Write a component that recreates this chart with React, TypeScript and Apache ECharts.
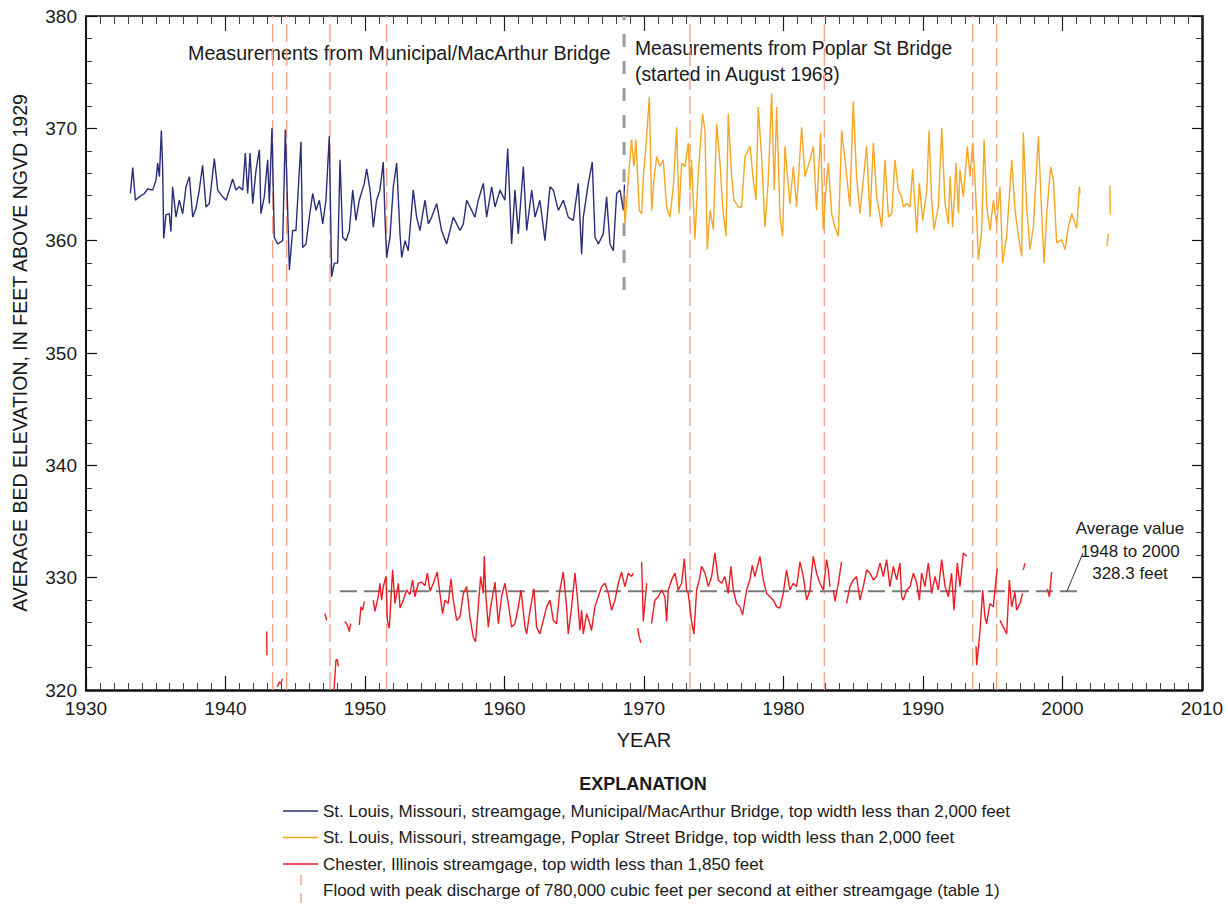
import React, { useEffect, useRef } from "react";
import * as echarts from "echarts";

const FONT = "'Liberation Sans Narrow', 'Arial Narrow', 'Liberation Sans', sans-serif";

// St. Louis, Municipal/MacArthur Bridge (year, elevation ft)
const municipalBridge: [number, number][] = [
  [1933.18, 364.2], [1933.35, 366.5], [1933.54, 363.6], [1933.82, 363.9], [1934.18, 364.2], [1934.42, 364.6],
  [1934.78, 364.5], [1935.02, 365.4], [1935.14, 366.9], [1935.26, 365.7], [1935.4, 369.8], [1935.5, 366.3],
  [1935.57, 360.2], [1935.73, 362.3], [1935.97, 362.4], [1936.09, 360.8], [1936.21, 364.8], [1936.45, 362.1],
  [1936.69, 363.6], [1936.93, 362.4], [1937.17, 364.8], [1937.41, 365.7], [1937.65, 362.1], [1937.89, 362.9],
  [1938.12, 364.5], [1938.36, 366.7], [1938.6, 363.0], [1938.84, 363.3], [1939.2, 367.3], [1939.44, 364.5],
  [1939.8, 363.9], [1940.04, 363.6], [1940.27, 364.5], [1940.51, 365.5], [1940.75, 364.5], [1940.99, 364.8],
  [1941.23, 364.5], [1941.42, 367.8], [1941.59, 364.2], [1941.76, 367.8], [1941.95, 363.3], [1942.19, 366.3],
  [1942.43, 368.1], [1942.54, 362.4], [1942.78, 363.9], [1943.02, 367.2], [1943.14, 363.3], [1943.33, 370.0],
  [1943.5, 360.3], [1943.74, 359.7], [1944.1, 360.0], [1944.29, 369.9], [1944.58, 357.4], [1944.81, 360.9],
  [1945.05, 360.9], [1945.41, 368.8], [1945.53, 359.4], [1945.77, 359.7], [1946.01, 362.1], [1946.25, 364.2],
  [1946.49, 362.7], [1946.73, 363.6], [1946.97, 361.5], [1947.2, 363.6], [1947.44, 369.3], [1947.61, 356.8],
  [1947.8, 358.0], [1948.04, 358.0], [1948.21, 367.2], [1948.4, 360.3], [1948.64, 360.0], [1948.88, 360.9],
  [1949.12, 364.5], [1949.35, 361.8], [1949.59, 363.6], [1949.95, 365.1], [1950.12, 366.4], [1950.36, 364.5],
  [1950.6, 361.2], [1950.83, 363.6], [1951.07, 364.5], [1951.31, 367.0], [1951.43, 362.1], [1951.55, 358.5],
  [1951.79, 360.3], [1952.03, 364.8], [1952.27, 366.9], [1952.51, 360.6], [1952.63, 358.5], [1952.87, 360.0],
  [1953.1, 359.1], [1953.46, 364.5], [1953.7, 362.1], [1953.94, 360.9], [1954.3, 363.6], [1954.54, 361.5],
  [1954.78, 362.1], [1955.14, 363.3], [1955.49, 360.9], [1955.85, 359.7], [1956.21, 361.5], [1956.33, 362.1],
  [1956.81, 360.9], [1957.05, 361.5], [1957.29, 363.6], [1957.53, 363.0], [1957.88, 362.1], [1958.12, 363.6],
  [1958.48, 365.1], [1958.72, 362.1], [1959.08, 364.8], [1959.32, 363.0], [1959.68, 364.5], [1960.03, 363.6],
  [1960.23, 368.2], [1960.51, 359.7], [1960.75, 364.5], [1960.99, 360.6], [1961.35, 366.6], [1961.59, 360.9],
  [1961.95, 364.5], [1962.19, 362.1], [1962.54, 363.6], [1962.9, 360.0], [1963.26, 364.8], [1963.5, 364.5],
  [1963.86, 362.7], [1964.22, 363.6], [1964.57, 362.1], [1964.93, 361.8], [1965.29, 365.1], [1965.53, 358.8],
  [1965.65, 362.1], [1966.01, 365.1], [1966.29, 367.0], [1966.49, 360.3], [1966.73, 359.7], [1967.08, 360.6],
  [1967.32, 363.9], [1967.56, 359.7], [1967.8, 359.1], [1968.04, 364.2], [1968.28, 364.5], [1968.52, 362.7],
  [1968.6, 365.0],
];

// St. Louis, Poplar Street Bridge
const poplarBridge: [number, number][] = [
  [1968.52, 364.5], [1968.64, 361.5], [1968.87, 365.4], [1969.11, 369.0], [1969.28, 366.6], [1969.42, 369.0],
  [1969.66, 362.7], [1969.83, 362.4], [1969.95, 365.7], [1970.14, 368.4], [1970.38, 372.8], [1970.55, 362.7],
  [1970.71, 365.4], [1970.91, 367.5], [1971.14, 366.6], [1971.38, 367.2], [1971.62, 363.0], [1971.86, 362.1],
  [1972.1, 364.8], [1972.34, 370.1], [1972.51, 362.4], [1972.7, 366.9], [1972.94, 366.6], [1973.18, 368.7],
  [1973.29, 364.5], [1973.41, 367.2], [1973.65, 360.1], [1973.89, 366.0], [1974.2, 371.3], [1974.37, 369.8],
  [1974.54, 359.2], [1974.73, 362.7], [1974.97, 361.0], [1975.21, 370.4], [1975.45, 366.9], [1975.64, 363.0],
  [1975.88, 360.4], [1976.04, 371.3], [1976.28, 365.7], [1976.45, 363.6], [1976.76, 363.0], [1977.0, 363.0],
  [1977.24, 367.5], [1977.6, 368.4], [1977.83, 365.4], [1978.03, 363.6], [1978.19, 371.9], [1978.43, 367.5],
  [1978.67, 361.2], [1978.91, 365.4], [1979.15, 373.1], [1979.34, 364.5], [1979.51, 371.9], [1979.75, 362.1],
  [1979.94, 360.4], [1980.1, 368.4], [1980.46, 363.3], [1980.7, 366.6], [1980.94, 363.0], [1981.3, 370.1],
  [1981.54, 365.7], [1981.9, 367.2], [1982.14, 368.4], [1982.37, 362.7], [1982.66, 369.6], [1982.85, 361.0],
  [1983.04, 364.5], [1983.21, 366.9], [1983.45, 362.4], [1983.69, 361.2], [1983.93, 360.4], [1984.17, 369.8],
  [1984.41, 367.2], [1984.76, 363.0], [1985.0, 372.4], [1985.24, 365.7], [1985.48, 362.4], [1985.72, 365.4],
  [1985.96, 368.4], [1986.2, 362.1], [1986.44, 368.7], [1986.68, 363.9], [1987.04, 361.2], [1987.28, 367.2],
  [1987.52, 362.1], [1987.76, 362.4], [1987.99, 367.2], [1988.23, 364.5], [1988.47, 363.9], [1988.59, 363.0],
  [1988.83, 363.3], [1989.07, 363.0], [1989.26, 366.4], [1989.55, 360.7], [1989.74, 365.1], [1989.98, 361.8],
  [1990.27, 364.5], [1990.43, 369.8], [1990.62, 363.6], [1990.79, 361.0], [1991.1, 363.0], [1991.34, 370.0],
  [1991.58, 363.3], [1991.82, 361.5], [1991.94, 365.7], [1992.13, 361.2], [1992.37, 366.9], [1992.54, 362.4],
  [1992.65, 366.3], [1992.89, 363.9], [1993.18, 368.4], [1993.37, 365.7], [1993.56, 368.7], [1993.73, 365.4],
  [1993.85, 362.1], [1993.97, 358.3], [1994.21, 360.9], [1994.38, 369.0], [1994.57, 363.0], [1994.81, 360.9],
  [1995.04, 363.6], [1995.28, 361.5], [1995.52, 364.8], [1995.71, 358.0], [1996.0, 360.4], [1996.36, 367.2],
  [1996.6, 362.7], [1996.84, 360.4], [1997.08, 358.6], [1997.19, 369.6], [1997.43, 363.0], [1997.67, 359.2],
  [1997.91, 361.2], [1998.27, 369.3], [1998.51, 362.4], [1998.68, 358.0], [1998.87, 362.4], [1999.15, 366.6],
  [1999.35, 365.4], [1999.58, 359.8], [1999.94, 360.1], [2000.18, 359.2], [2000.42, 361.2], [2000.66, 362.4],
  [2001.02, 361.1], [2001.21, 364.8], [2001.26, 364.2],
];
const poplarLate1: [number, number][] = [[2003.17, 359.5], [2003.29, 360.6]];
const poplarLate2: [number, number][] = [[2003.4, 364.9], [2003.42, 362.3]];

// Chester, Illinois (separate record pieces)
const chester1: [number, number][] = [[1942.95, 325.2], [1942.97, 323.1]];
const chester2: [number, number][] = [[1943.71, 320.3], [1943.86, 320.7], [1943.95, 320.6], [1944.1, 321.0]];
const chester3: [number, number][] = [[1947.13, 326.8], [1947.25, 326.2]];
const chester4: [number, number][] = [[1947.78, 320.0], [1947.92, 322.7], [1948.01, 322.7], [1948.09, 322.1]];
const chester5: [number, number][] = [[1948.56, 326.1], [1948.73, 325.8], [1948.87, 325.2], [1948.97, 325.9]];
const chester6: [number, number][] = [[1949.59, 325.8], [1949.71, 327.4], [1949.83, 327.1], [1949.95, 327.9]];
const chester7: [number, number][] = [
  [1950.59, 328.0], [1950.71, 327.0], [1950.95, 328.3], [1951.07, 329.5], [1951.19, 328.0], [1951.31, 329.2],
  [1951.5, 330.1], [1951.6, 326.2], [1951.74, 325.5], [1951.98, 330.7], [1952.15, 327.7], [1952.39, 329.5],
  [1952.51, 327.3], [1952.75, 328.0], [1952.98, 328.9], [1953.22, 328.5], [1953.41, 329.8], [1953.58, 328.3],
  [1953.82, 329.5], [1954.06, 329.6], [1954.3, 329.3], [1954.47, 330.4], [1954.66, 328.8], [1954.9, 329.5],
  [1955.18, 330.5], [1955.37, 328.6], [1955.56, 326.8], [1955.73, 328.0], [1955.97, 327.7], [1956.16, 329.9],
  [1956.33, 328.0], [1956.57, 326.2], [1956.81, 326.5], [1957.05, 328.6], [1957.29, 329.2], [1957.52, 326.5],
  [1957.76, 324.7], [1957.93, 324.3], [1958.12, 327.4], [1958.29, 330.1], [1958.48, 328.6], [1958.55, 331.9],
  [1958.67, 328.3], [1958.84, 325.6], [1959.01, 327.4], [1959.32, 329.6], [1959.56, 325.9], [1959.79, 328.3],
  [1960.03, 329.5], [1960.27, 327.7], [1960.51, 325.6], [1960.75, 325.9], [1960.99, 327.4], [1961.18, 328.9],
  [1961.47, 325.6], [1961.59, 325.0], [1961.83, 327.1], [1962.11, 329.0], [1962.3, 325.6], [1962.54, 325.0],
  [1963.02, 327.4], [1963.26, 328.0], [1963.5, 326.2], [1963.73, 325.9], [1963.97, 328.9], [1964.21, 330.5],
  [1964.45, 327.4], [1964.57, 325.0], [1964.81, 327.4], [1965.05, 330.4], [1965.22, 328.3], [1965.41, 325.3],
  [1965.53, 327.1], [1965.65, 325.0], [1965.89, 326.8], [1966.12, 325.9], [1966.24, 325.3], [1966.48, 327.4],
  [1966.72, 328.3], [1966.96, 329.2], [1967.2, 329.5], [1967.44, 328.6], [1967.68, 327.1], [1967.92, 328.0],
  [1968.16, 329.5], [1968.39, 330.5], [1968.63, 329.2], [1968.87, 330.4], [1969.11, 330.1], [1969.23, 330.4],
];
const chester8: [number, number][] = [[1969.54, 325.5], [1969.66, 324.7], [1969.78, 324.2]];
const chester9: [number, number][] = [[1969.83, 331.4], [1969.95, 326.1], [1970.19, 329.5]];
const chester10: [number, number][] = [
  [1970.54, 325.9], [1970.78, 328.0], [1971.02, 328.3], [1971.26, 328.9], [1971.5, 328.3], [1971.62, 326.1],
  [1971.74, 328.9], [1971.98, 329.8], [1972.22, 330.4], [1972.46, 328.9], [1972.7, 329.5], [1972.89, 331.7],
  [1973.05, 328.9], [1973.17, 328.6], [1973.41, 326.1], [1973.58, 325.0], [1973.77, 328.9], [1973.96, 329.8],
  [1974.13, 331.0], [1974.37, 330.4], [1974.61, 329.2], [1974.85, 330.1], [1975.08, 332.2], [1975.32, 329.8],
  [1975.56, 329.5], [1975.8, 330.1], [1976.04, 328.6], [1976.23, 331.0], [1976.4, 328.9], [1976.64, 327.7],
  [1976.88, 327.4], [1977.07, 326.7], [1977.35, 328.9], [1977.59, 329.8], [1977.76, 331.1], [1977.95, 330.1],
  [1978.31, 331.9], [1978.55, 329.8], [1978.79, 328.6], [1979.03, 328.3], [1979.27, 328.0], [1979.51, 327.4],
  [1979.74, 327.3], [1979.98, 328.6], [1980.22, 330.7], [1980.46, 328.9], [1980.7, 329.5], [1980.94, 329.2],
  [1981.18, 331.4], [1981.42, 330.1], [1981.66, 328.0], [1981.9, 328.9], [1982.13, 331.9], [1982.37, 330.4],
  [1982.61, 329.5], [1982.85, 328.9], [1983.09, 331.6], [1983.21, 330.7], [1983.33, 329.2],
];
const chester11: [number, number][] = [[1983.57, 328.9], [1983.69, 327.9], [1983.93, 329.5], [1984.16, 331.4]];
const chester12: [number, number][] = [
  [1984.52, 327.7], [1984.76, 329.2], [1985.0, 329.8], [1985.24, 330.1], [1985.48, 328.0], [1985.72, 329.2],
  [1985.96, 330.7], [1986.2, 330.4], [1986.44, 329.8], [1986.67, 330.1], [1986.92, 331.3], [1987.16, 330.1],
  [1987.39, 331.6], [1987.63, 329.2], [1987.87, 331.0], [1988.11, 329.8], [1988.35, 331.3], [1988.47, 328.3],
  [1988.59, 328.0], [1988.83, 328.9], [1989.07, 329.2], [1989.31, 330.4], [1989.55, 329.5], [1989.74, 328.0],
  [1989.9, 330.4], [1990.14, 329.2], [1990.38, 331.3], [1990.62, 328.6], [1990.86, 330.1], [1991.1, 328.9],
  [1991.34, 331.6], [1991.58, 329.2], [1991.82, 328.3], [1992.05, 330.4], [1992.22, 327.1], [1992.46, 331.3],
  [1992.65, 329.2], [1992.89, 332.2], [1993.13, 331.9],
];
const chester13: [number, number][] = [
  [1993.8, 323.9], [1993.85, 322.2], [1994.09, 325.3], [1994.28, 328.9], [1994.44, 326.5], [1994.56, 325.9],
  [1994.8, 327.7], [1995.04, 327.4], [1995.23, 329.8], [1995.33, 330.8],
];
const chester14: [number, number][] = [
  [1995.52, 326.2], [1995.76, 325.6], [1996.0, 325.0], [1996.19, 329.8], [1996.36, 327.4], [1996.59, 328.7],
  [1996.71, 327.1], [1996.95, 327.7], [1997.14, 328.6],
];
const chester15: [number, number][] = [[1997.19, 330.7], [1997.31, 331.3]];
const chester16: [number, number][] = [[1998.91, 329.0], [1999.06, 328.3], [1999.22, 330.5]];
const chesterPieces = [
  chester1, chester2, chester3, chester4, chester5, chester6, chester7, chester8,
  chester9, chester10, chester11, chester12, chester13, chester14, chester15, chester16,
];

// Floods with peak discharge >= 780,000 cfs
const floodYears = [1943.38, 1944.38, 1947.49, 1951.55, 1973.3, 1982.93, 1993.56, 1995.28];
// Change of measurement bridge (August 1968)
const bridgeChangeYear = 1968.57;
const bridgeChangeRange = [355.6, 380];
// Average Chester bed elevation 1948 to 2000
const averageLevel = 328.8;
const averageSpan = [1948.2, 2001.4];
const averageLeader: [number, number][] = [[2000.32, 328.8], [2001.47, 332.2]];

const legendLabels = [
  "St. Louis, Missouri, streamgage, Municipal/MacArthur Bridge, top width less than 2,000 feet",
  "St. Louis, Missouri, streamgage, Poplar Street Bridge, top width less than 2,000 feet",
  "Chester, Illinois streamgage, top width less than 1,850 feet",
  "Flood with peak discharge of 780,000 cubic feet per second at either streamgage (table 1)",
];

const BLUE = "#2a2e78";
const ORANGE = "#f7a623";
const RED = "#ec1c24";
const FLOOD = "#f5a287";

function line(data: any[], color: string, width: number, type: any = "solid", z = 3) {
  return {
    type: "line",
    data,
    showSymbol: false,
    symbol: "none",
    silent: true,
    animation: false,
    z,
    lineStyle: { color, width, type },
  };
}

export default function App() {
  const ref = useRef<HTMLDivElement>(null);
  useEffect(() => {
    document.body.style.margin = "0";
    const chart = echarts.init(ref.current!, null, { renderer: "svg" });
    const series: any[] = [];
    floodYears.forEach((yr) => {
      series.push(line([[yr, 320], [yr, 380]], FLOOD, 1.4, [18, 6], 1));
    });
    series.push(line([[bridgeChangeYear, bridgeChangeRange[0]], [bridgeChangeYear, bridgeChangeRange[1]]], "#9b9b9b", 3, [13, 14], 1));
    series.push(line([[averageSpan[0], averageLevel], [averageSpan[1], averageLevel]], "#7a7a7a", 2, [17, 7], 2));
    series.push(line(averageLeader, "#333", 1, "solid", 2));
    series.push(line(municipalBridge, BLUE, 1.4));
    series.push(line(poplarBridge, ORANGE, 1.4));
    series.push(line(poplarLate1, ORANGE, 1.4));
    series.push(line(poplarLate2, ORANGE, 1.4));
    chesterPieces.forEach((p) => series.push(line(p, RED, 1.4)));

    const labelFont = { fontFamily: FONT, fontSize: 19, color: "#1a1a1a" };
    const textStyle = (text: string, x: number, y: number, extra: any = {}) => ({
      type: "text",
      x,
      y,
      silent: true,
      style: { text, fontFamily: FONT, fontSize: 19, fill: "#1a1a1a", textVerticalAlign: "middle", ...extra },
    });

    const legendRows = [811, 837.5, 864, 890.5];
    const graphic: any[] = [
      textStyle("Measurements from Municipal/MacArthur Bridge", 188, 53, { fontSize: 19.7 }),
      textStyle("Measurements from Poplar St Bridge", 635, 48, { fontSize: 19.3 }),
      textStyle("(started in August 1968)", 635, 74, { fontSize: 19.3 }),
      textStyle("Average value", 1130, 528, { textAlign: "center", fontSize: 17 }),
      textStyle("1948 to 2000", 1130, 551, { textAlign: "center", fontSize: 17 }),
      textStyle("328.3 feet", 1130, 573, { textAlign: "center", fontSize: 17 }),
      textStyle("EXPLANATION", 643, 784, { textAlign: "center", fontWeight: "bold", fontSize: 18 }),
      { type: "line", silent: true, shape: { x1: 283, y1: legendRows[0], x2: 318, y2: legendRows[0] }, style: { stroke: BLUE, lineWidth: 1.5 } },
      { type: "line", silent: true, shape: { x1: 283, y1: legendRows[1], x2: 318, y2: legendRows[1] }, style: { stroke: ORANGE, lineWidth: 1.5 } },
      { type: "line", silent: true, shape: { x1: 283, y1: legendRows[2], x2: 318, y2: legendRows[2] }, style: { stroke: RED, lineWidth: 1.5 } },
      { type: "line", silent: true, shape: { x1: 301, y1: 875, x2: 301, y2: 905 }, style: { stroke: FLOOD, lineWidth: 1.4, lineDash: [10, 8] } },
      ...legendLabels.map((t, i) => textStyle(t, 323, legendRows[i], { fontSize: 17 })),
    ];

    chart.setOption({
      animation: false,
      textStyle: { fontFamily: FONT },
      grid: { left: 86, top: 16, width: 1116, height: 674, containLabel: false },
      xAxis: [
        {
          type: "value",
          min: 1930,
          max: 2010,
          interval: 10,
          position: "bottom",
          name: "YEAR",
          nameLocation: "middle",
          nameGap: 40,
          nameTextStyle: { fontFamily: FONT, fontSize: 20, color: "#1a1a1a" },
          axisLine: { show: true, lineStyle: { color: "#111", width: 2.5 } },
          axisTick: { show: true, inside: true, length: 14, lineStyle: { color: "#111", width: 1.2 } },
          minorTick: { show: true, splitNumber: 10, length: 7, lineStyle: { color: "#444", width: 1 } },
          splitLine: { show: false },
          axisLabel: { ...labelFont, margin: 9, formatter: (v: number) => String(v) },
        },
        {
          type: "value",
          min: 1930,
          max: 2010,
          interval: 10,
          position: "top",
          axisLine: { show: true, lineStyle: { color: "#444", width: 2 } },
          axisTick: { show: true, inside: true, length: 15, lineStyle: { color: "#222", width: 1.2 } },
          minorTick: { show: true, splitNumber: 10, length: 8, lineStyle: { color: "#444", width: 1 } },
          splitLine: { show: false },
          axisLabel: { show: false },
        },
      ],
      yAxis: [
        {
          type: "value",
          min: 320,
          max: 380,
          interval: 10,
          position: "left",
          name: "AVERAGE BED ELEVATION, IN FEET ABOVE NGVD 1929",
          nameLocation: "middle",
          nameGap: 56,
          nameTextStyle: { fontFamily: FONT, fontSize: 19.5, color: "#1a1a1a" },
          axisLine: { show: true, lineStyle: { color: "#111", width: 2 } },
          axisTick: { show: true, inside: true, length: 11, lineStyle: { color: "#111", width: 1.2 } },
          minorTick: { show: true, splitNumber: 5, length: 6, lineStyle: { color: "#333", width: 1 } },
          splitLine: { show: false },
          axisLabel: { ...labelFont, margin: 9 },
        },
        {
          type: "value",
          min: 320,
          max: 380,
          interval: 10,
          position: "right",
          axisLine: { show: true, lineStyle: { color: "#111", width: 2.5 } },
          axisTick: { show: true, inside: true, length: 10, lineStyle: { color: "#111", width: 1.2 } },
          minorTick: { show: true, splitNumber: 5, length: 6, lineStyle: { color: "#333", width: 1 } },
          splitLine: { show: false },
          axisLabel: { show: false },
        },
      ],
      series,
      graphic,
    });
    return () => chart.dispose();
  }, []);
  return <div ref={ref} style={{ width: 1228, height: 905 }} />;
}
